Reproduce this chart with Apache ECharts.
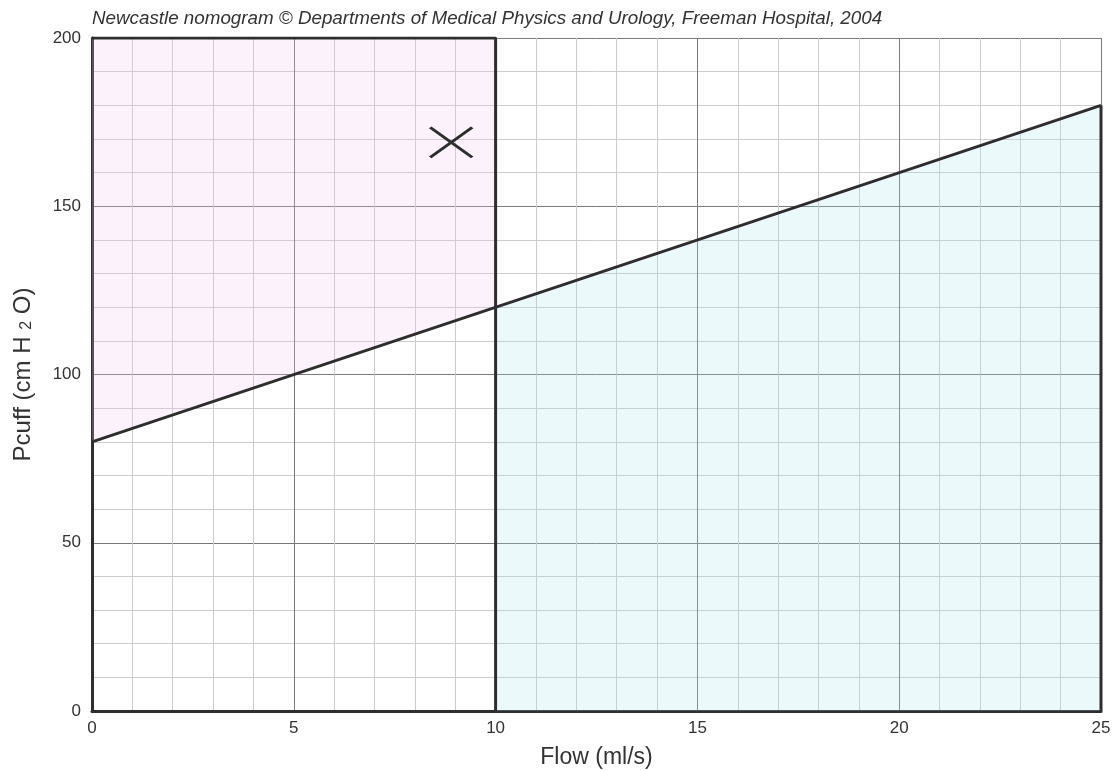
<!DOCTYPE html>
<html><head><meta charset="utf-8">
<script src="https://cdn.jsdelivr.net/npm/echarts@6/dist/echarts.min.js"></script>
<style>html,body{margin:0;padding:0;background:#fff}#c{width:1117px;height:771px}</style>
</head><body><div id="c"></div>
<script>
// Data
const titleText = 'Newcastle nomogram \u00A9 Departments of Medical Physics and Urology, Freeman Hospital, 2004';
const xTicks = [0, 5, 10, 15, 20, 25];
const yTicks = [0, 50, 100, 150, 200];
const boundaryLine = [[0, 80], [25, 180]];            // Pcuff = 80 + 4*Flow
const obstructedEdge = [[0, 80], [10, 120]];          // lower edge of pink zone
const unobstructedEdge = [[10, 120], [25, 180]];      // upper edge of blue zone
const pinkOutline = [[0, 200], [10, 200], [10, 0]];
const rightOutline = [[25, 180], [25, 0]];
const marker = [[8.9, 169]];

const chart = echarts.init(document.getElementById('c'), null, {renderer: 'canvas'});
const font = "'Liberation Sans', Arial, Helvetica, sans-serif";
const thick = {color: '#2e2e2e', width: 3};
chart.setOption({
  animation: false,
  backgroundColor: '#ffffff',
  title: {
    text: titleText, left: 87, top: 4,
    textStyle: {fontFamily: font, fontStyle: 'italic', fontWeight: 'normal', fontSize: 18.8, color: '#333'}
  },
  grid: {left: 92, right: 16, top: 38, bottom: 60, containLabel: false, outerBoundsMode: 'none'},
  xAxis: {
    type: 'value', min: 0, max: 25, interval: 5,
    name: 'Flow (ml/s)', nameLocation: 'middle', nameGap: 35,
    nameTextStyle: {fontFamily: font, fontSize: 23, color: '#333'},
    axisLine: {show: true, onZero: false, lineStyle: thick},
    axisTick: {show: false},
    axisLabel: {fontFamily: font, fontSize: 17, color: '#333', margin: 9,
      formatter: v => xTicks.includes(v) ? String(v) : ''},
    splitLine: {show: true, lineStyle: {color: '#7a7a7a', width: 1}},
    minorTick: {show: false, splitNumber: 5},
    minorSplitLine: {show: true, lineStyle: {color: '#cccccc', width: 1}}
  },
  yAxis: {
    type: 'value', min: 0, max: 200, interval: 50,
    name: 'Pcuff (cm H {s|2} O)', nameLocation: 'middle', nameGap: 57, nameRotate: 90,
    nameTextStyle: {fontFamily: font, fontSize: 24, color: '#333',
      rich: {s: {fontFamily: font, fontSize: 16, color: '#333', verticalAlign: 'bottom', padding: [8, 0, 0, 0]}}},
    axisLine: {show: true, onZero: false, lineStyle: thick},
    axisTick: {show: false},
    axisLabel: {fontFamily: font, fontSize: 17, color: '#333', margin: 11,
      formatter: v => yTicks.includes(v) ? String(v) : ''},
    splitLine: {show: true, lineStyle: {color: '#7a7a7a', width: 1}},
    minorTick: {show: false, splitNumber: 5},
    minorSplitLine: {show: true, lineStyle: {color: '#cccccc', width: 1}}
  },
  series: [
    {type: 'line', data: obstructedEdge, symbol: 'none', lineStyle: {width: 0},
     areaStyle: {origin: 'end', color: 'rgba(238,200,240,0.33)'}, z: 1, silent: true},
    {type: 'line', data: unobstructedEdge, symbol: 'none', lineStyle: {width: 0},
     areaStyle: {origin: 'start', color: 'rgba(170,230,235,0.32)'}, z: 1, silent: true},
    {type: 'line', data: boundaryLine, symbol: 'none', lineStyle: thick, z: 5, silent: true},
    {type: 'line', data: pinkOutline, symbol: 'none', lineStyle: thick, z: 5, silent: true},
    {type: 'line', data: rightOutline, symbol: 'none', lineStyle: thick, z: 5, silent: true},
    {type: 'scatter', data: marker, symbol: 'path://M0,0L42,30M42,0L0,30', symbolSize: [42, 30],
     itemStyle: {color: 'rgba(0,0,0,0)', borderColor: '#2e2e2e', borderWidth: 3, opacity: 1}, z: 6, silent: true}
  ]
});
</script></body></html>
